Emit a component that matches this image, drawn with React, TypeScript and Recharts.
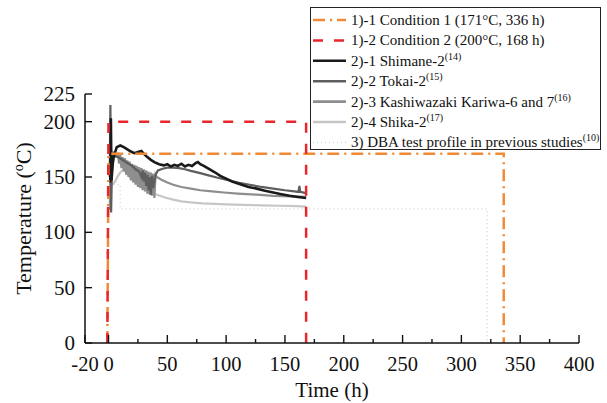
import { LineChart, Line, XAxis, YAxis, Label } from "recharts";

const FONT = "'Liberation Serif', 'Times New Roman', serif";
const textStyle = { fontFamily: FONT };

// axis ticks
const xMajor = [-20, 0, 50, 100, 150, 200, 250, 300, 350, 400];
const xMinor = [25, 75, 125, 175, 225, 275, 325, 375];
const yTicks = [0, 50, 100, 150, 200, 225];

// 1)-1 and 1)-2 test conditions
const cond1Time = [-1, 0, 336, 336];
const cond1Temp = [0, 171, 171, 0];
const cond2Time = [-1, 0, 168, 168];
const cond2Temp = [0, 200, 200, 0];

// 2)-1 Shimane-2
const shimaneTime = [1.5, 2, 2.5, 4, 7, 10, 13, 16, 19, 22, 25, 28, 30, 33, 36, 39, 43, 47, 50, 53, 56, 59, 62, 65, 68, 71, 74, 76, 78, 81, 85, 90, 95, 100, 105, 112, 119, 126, 133, 140, 147, 154, 161, 168];
const shimaneTemp = [145, 203, 147, 167, 177, 178.5, 177, 175, 173, 171.5, 172.5, 173.5, 171, 168, 165.5, 163.5, 161.5, 160.5, 161.5, 159.5, 161, 160, 162, 159.5, 161, 160, 162.5, 163.5, 161.5, 160, 157.5, 154.5, 151, 148.5, 146, 143.5, 141, 139.5, 137.5, 136, 134.5, 133, 132, 131];

// 2)-2 Tokai-2
const tokaiTime = [1, 1.6, 2.2, 3, 5, 8, 11, 14, 17, 20, 23, 26, 28, 29, 30, 31, 32, 33, 34, 35, 36, 37, 38, 40, 42, 46, 50, 55, 60, 65, 70, 78, 85, 92, 100, 110, 120, 130, 140, 150, 158, 161.5, 162.3, 163, 168];
const tokaiTemp = [150, 215, 118, 160, 169, 168, 166, 164, 162, 160, 157, 155, 150, 156, 146, 154, 142, 152, 138, 150, 134, 151, 140, 152, 156, 157.5, 158.5, 158.5, 158, 157, 155.5, 153.5, 151.5, 149.5, 147.5, 145, 143, 141, 139.5, 138, 137, 136.5, 142, 136.5, 135.5];

// 2)-3 Kashiwazaki Kariwa-6 and 7
const kashiTime = [1, 2, 4, 6, 8, 9, 10, 11, 12, 13, 14, 15, 16, 17, 18, 19, 20, 21, 22, 23, 24, 25, 26, 27, 28, 29, 30, 31, 32, 33, 34, 35, 36, 37, 38, 39, 40, 41, 45, 50, 55, 62, 70, 78, 88, 98, 110, 126, 140, 155, 168];
const kashiTemp = [120, 163, 172, 169, 171, 162, 170, 158, 168, 155, 167, 152, 165, 150, 164, 147, 162, 145, 161, 143, 160, 141, 159, 140, 158, 138, 157, 137, 156, 135, 155, 134, 154, 133, 153, 131, 152, 150, 147.5, 145, 143, 141, 139.5, 138, 137, 136, 135, 134, 133, 132.5, 132];

// 2)-4 Shika-2
const shikaTime = [1, 3, 5, 8, 10, 12.5, 15, 18, 21, 24, 27, 30, 33, 36, 41, 48, 55, 62, 70, 80, 90, 100, 115, 130, 145, 160, 168];
const shikaTemp = [143, 143, 145, 151, 154, 156.5, 154, 150, 147.5, 144.5, 143, 141, 139, 136.5, 134, 131.5, 129.5, 128, 127, 126.2, 125.7, 125.3, 124.8, 124.3, 124, 123.6, 123.3];

// 3) DBA test profile
const dbaTime = [1, 10, 10, 322, 322];
const dbaTemp = [143, 143, 121, 121, 0];

const zip = (t: number[], v: number[]) => t.map((x, i) => ({ x, y: v[i] }));

const series = [
  { key: "dba", data: zip(dbaTime, dbaTemp), color: "#cfdada", width: 1.5, dash: "1 3" },
  { key: "shika", data: zip(shikaTime, shikaTemp), color: "#c6c6c6", width: 2.2, dash: undefined },
  { key: "kashi", data: zip(kashiTime, kashiTemp), color: "#8e8e8e", width: 2.2, dash: undefined },
  { key: "tokai", data: zip(tokaiTime, tokaiTemp), color: "#5e5e5e", width: 2.2, dash: undefined },
  { key: "shimane", data: zip(shimaneTime, shimaneTemp), color: "#1a1a1a", width: 2.6, dash: undefined },
  { key: "cond1", data: zip(cond1Time, cond1Temp), color: "#f08a36", width: 2.5, dash: "12 5 2 5" },
  { key: "cond2", data: zip(cond2Time, cond2Temp), color: "#e8262c", width: 2.5, dash: "10 11" },
];

const legendRows = [
  { text: "1)-1 Condition 1 (171°C, 336 h)", sup: "", color: "#f08a36", width: 2.5, dash: "12 5 2 5" },
  { text: "1)-2 Condition 2 (200°C, 168 h)", sup: "", color: "#e8262c", width: 2.5, dash: "10 11" },
  { text: "2)-1 Shimane-2", sup: "(14)", color: "#1a1a1a", width: 2.6, dash: undefined },
  { text: "2)-2 Tokai-2", sup: "(15)", color: "#5e5e5e", width: 2.6, dash: undefined },
  { text: "2)-3 Kashiwazaki Kariwa-6 and 7", sup: "(16)", color: "#8e8e8e", width: 2.6, dash: undefined },
  { text: "2)-4 Shika-2", sup: "(17)", color: "#c6c6c6", width: 2.6, dash: undefined },
  { text: "3) DBA test profile in previous studies", sup: "(10)", color: "#cfdada", width: 1.5, dash: "1 3" },
];

function XTick(props: any) {
  const { x, y, payload } = props;
  const major = xMajor.includes(payload.value);
  return (
    <g>
      <line x1={x} x2={x} y1={y} y2={y - (major ? 8 : 4)} stroke="#111" strokeWidth={1.4} />
      {major && (
        <text x={x} y={y + 28} textAnchor="middle" fontSize={20.5} style={textStyle} fill="#111">
          {payload.value}
        </text>
      )}
    </g>
  );
}

function YTick(props: any) {
  const { x, y, payload } = props;
  return (
    <g>
      <line x1={x} x2={x + 7} y1={y} y2={y} stroke="#111" strokeWidth={1.4} />
      <text x={x - 10} y={y + 7} textAnchor="end" fontSize={21} style={textStyle} fill="#111">
        {payload.value}
      </text>
    </g>
  );
}

function Legend() {
  return (
    <div
      style={{
        position: "absolute",
        left: 310,
        top: 7,
        width: 291,
        height: 143,
        border: "1px solid #222",
        background: "#fff",
        boxSizing: "border-box",
        fontFamily: FONT,
        fontSize: 15,
        color: "#111",
      }}
    >
      <svg width={291} height={143}>
        {legendRows.map((r, i) => {
          const cy = 12 + i * 20.4;
          return (
            <g key={i}>
              <line x1={2} x2={35} y1={cy} y2={cy} stroke={r.color} strokeWidth={r.width} strokeDasharray={r.dash} />
              <text x={40} y={cy + 5} fontSize={15} style={textStyle} fill="#111">
                {r.text}
                {r.sup && (
                  <tspan fontSize={10} dy={-6}>
                    {r.sup}
                  </tspan>
                )}
              </text>
            </g>
          );
        })}
      </svg>
    </div>
  );
}

export default function App() {
  return (
    <div style={{ position: "absolute", left: 0, top: 0, width: 607, height: 403, background: "#fff" }}>
      <LineChart width={607} height={403} margin={{ top: 94, right: 28, bottom: 0, left: 0 }}>
        <XAxis
          dataKey="x"
          type="number"
          domain={[-20, 400]}
          ticks={[...xMajor, ...xMinor]}
          allowDataOverflow
          height={60}
          tickSize={0}
          tickMargin={0}
          tick={<XTick />}
          axisLine={{ stroke: "#111", strokeWidth: 1.5 }}
          interval={0}
        >
          <Label
            content={({ viewBox }: any) => (
              <text
                x={viewBox.x + viewBox.width / 2}
                y={viewBox.y + 54}
                textAnchor="middle"
                fontSize={21}
                style={textStyle}
                fill="#111"
              >
                Time (h)
              </text>
            )}
          />
        </XAxis>
        <XAxis
          xAxisId="top"
          orientation="top"
          type="number"
          domain={[-20, 400]}
          height={0}
          tick={false}
          tickLine={false}
          axisLine={{ stroke: "#111", strokeWidth: 1.5 }}
        />
        <YAxis
          type="number"
          domain={[0, 225]}
          ticks={yTicks}
          allowDataOverflow
          width={85}
          tickSize={0}
          tickMargin={0}
          tick={<YTick />}
          interval={0}
          axisLine={{ stroke: "#111", strokeWidth: 1.5 }}
        >
          <Label
            content={({ viewBox }: any) => {
              const cx = 31;
              const cy = viewBox.y + viewBox.height / 2;
              return (
                <text
                  x={cx}
                  y={cy}
                  transform={`rotate(-90, ${cx}, ${cy})`}
                  textAnchor="middle"
                  fontSize={22}
                  style={textStyle}
                  fill="#111"
                >
                  Temperature (
                  <tspan fontSize={14} dy={-8}>
                    o
                  </tspan>
                  <tspan dy={8}>C)</tspan>
                </text>
              );
            }}
          />
        </YAxis>
        <YAxis
          yAxisId="right"
          orientation="right"
          type="number"
          domain={[0, 225]}
          width={0}
          tick={false}
          tickLine={false}
          axisLine={{ stroke: "#111", strokeWidth: 1.5 }}
        />
        {series.map((s) => (
          <Line
            key={s.key}
            data={s.data}
            dataKey="y"
            type="linear"
            stroke={s.color}
            strokeWidth={s.width}
            strokeDasharray={s.dash}
            dot={false}
            activeDot={false}
            isAnimationActive={false}
          />
        ))}
      </LineChart>
      <Legend />
    </div>
  );
}
